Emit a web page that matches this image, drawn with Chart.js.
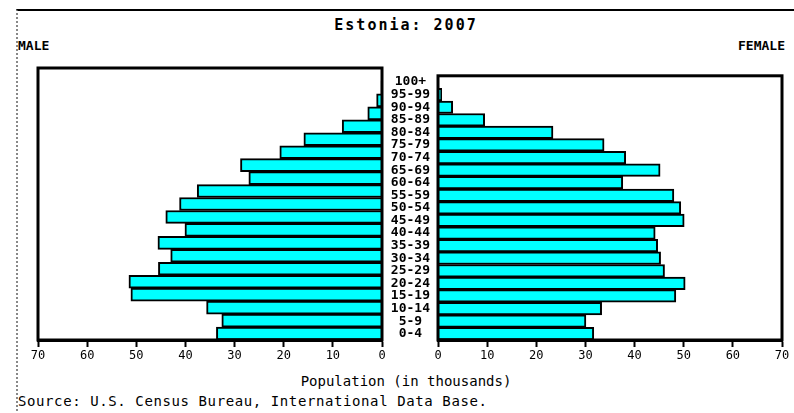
<!DOCTYPE html>
<html lang="en">
<head>
    <meta charset="UTF-8">
    <title>Estonia: 2007</title>
    <script src="https://cdn.jsdelivr.net/npm/chart.js"></script>
    <style>
        body {
            margin: 0;
            width: 794px;
            height: 413px;
            overflow: hidden;
            background: #fff;
            font-family: "DejaVu Sans Mono", monospace;
            position: relative;
        }

        .frame {
            position: absolute;
            left: 16px;
            top: 9px;
            width: 800px;
            height: 420px;
            border-top: 2px solid #000;
            border-left: 2px dotted #888;
        }

        .txt {
            position: absolute;
            white-space: nowrap;
            color: #000;
        }

        canvas {
            position: absolute;
        }
    </style>
</head>
<body>
<div class="frame"></div>
<div class="txt" id="title" style="left:0;width:812px;text-align:center;top:16px;font-size:15px;font-weight:bold;letter-spacing:2px;"></div>
<div class="txt" style="left:18px;top:38px;font-size:13px;font-weight:bold;">MALE</div>
<div class="txt" style="left:738px;top:38px;font-size:13px;font-weight:bold;">FEMALE</div>
<div class="txt" style="left:0;width:812px;text-align:center;top:373px;font-size:14px;">Population (in thousands)</div>
<div class="txt" style="left:18px;top:393px;font-size:14px;letter-spacing:0.6px;">Source: U.S. Census Bureau, International Data Base.</div>

<canvas id="maleChart" width="384" height="310" style="left:18px;top:60px;"></canvas>
<canvas id="femaleChart" width="412" height="310" style="left:390px;top:60px;"></canvas>

<script>
    const title = "Estonia: 2007";
    const ageGroups = ["100+", "95-99", "90-94", "85-89", "80-84", "75-79", "70-74", "65-69", "60-64", "55-59", "50-54",
        "45-49", "40-44", "35-39", "30-34", "25-29", "20-24", "15-19", "10-14", "5-9", "0-4"];
    const male = [0.05, 0.2, 1.1, 2.9, 8.1, 15.9, 20.8, 28.8, 27.1, 37.6, 41.2,
        44.0, 40.1, 45.6, 43.0, 45.5, 51.5, 51.1, 35.7, 32.6, 33.7];
    const female = [0.1, 0.75, 3.0, 9.5, 23.4, 33.8, 38.2, 45.2, 37.6, 48.0, 49.4,
        50.1, 44.2, 44.7, 45.3, 46.1, 50.3, 48.4, 33.3, 30.1, 31.7];
    const xTicks = [0, 10, 20, 30, 40, 50, 60, 70];

    document.getElementById("title").textContent = title;

    const monoFont = {family: "DejaVu Sans Mono", size: 12};

    // black box round the plot area, like the original picture
    const frameBox = {
        id: 'frameBox',
        afterDatasetsDraw(chart) {
            const a = chart.chartArea;
            const ctx = chart.ctx;
            ctx.save();
            ctx.strokeStyle = '#000';
            ctx.lineWidth = 3;
            ctx.strokeRect(a.left, a.top, a.right - a.left, a.bottom - a.top);
            ctx.restore();
        }
    };

    function xScale(reverse) {
        return {
            type: 'linear',
            min: 0,
            max: 70,
            reverse,
            afterBuildTicks: scale => {
                scale.ticks = xTicks.map(v => ({value: v}));
            },
            afterFit: scale => {
                scale.height = 30;
            },
            grid: {
                display: true,
                drawOnChartArea: false,
                tickLength: 7,
                tickWidth: 2,
                tickColor: '#000'
            },
            border: {display: true, color: '#000', width: 3},
            ticks: {color: '#000', font: monoFont, padding: 2, maxRotation: 0}
        };
    }

    function yScale(showAges) {
        const y = {
            type: 'category',
            display: showAges,
            position: 'left',
            grid: {display: false, drawTicks: false},
            border: {display: false},
            ticks: {
                autoSkip: false,
                color: '#000',
                crossAlign: 'center',
                padding: 8,
                font: {family: "DejaVu Sans Mono", size: 13, weight: 'bold'}
            }
        };
        if (showAges) {
            y.afterFit = scale => {
                scale.width = 48;
            };
        }
        return y;
    }

    function createChart(ctx, values, reverse, padding, showAges) {
        return new Chart(ctx, {
            type: 'bar',
            data: {
                labels: ageGroups,
                datasets: [{
                    data: values,
                    backgroundColor: '#00ffff',
                    borderColor: '#000',
                    borderWidth: 2,
                    barPercentage: 1,
                    categoryPercentage: 1
                }]
            },
            options: {
                indexAxis: 'y',
                responsive: false,
                animation: false,
                layout: {padding},
                plugins: {legend: {display: false}, tooltip: {enabled: false}},
                scales: {
                    x: xScale(reverse),
                    y: yScale(showAges)
                }
            },
            plugins: [frameBox]
        });
    }

    createChart(document.getElementById("maleChart"), male, true, {left: 20, right: 20, top: 8, bottom: 0}, false);
    createChart(document.getElementById("femaleChart"), female, false, {left: 0, right: 20, top: 8, bottom: 0}, true);
</script>
</body>
</html>
